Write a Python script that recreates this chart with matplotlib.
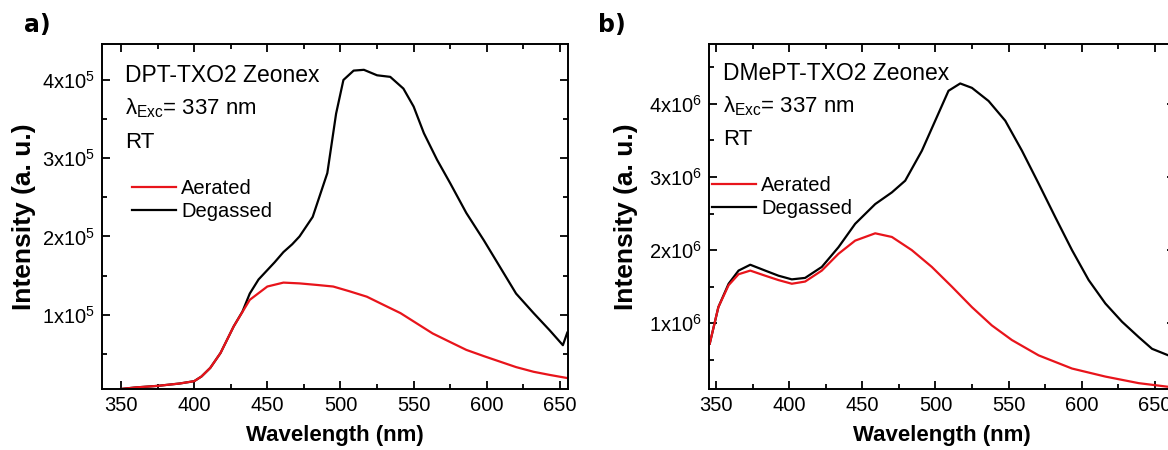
import numpy as np
import matplotlib
matplotlib.use("Agg")
import matplotlib.pyplot as plt
from matplotlib.ticker import MultipleLocator, FuncFormatter

plt.rcParams['font.family'] = ['Liberation Sans', 'DejaVu Sans']
plt.rcParams['mathtext.fontset'] = 'custom'
plt.rcParams['mathtext.rm'] = 'Liberation Sans'
plt.rcParams['mathtext.it'] = 'Liberation Sans'
plt.rcParams['mathtext.bf'] = 'Liberation Sans:bold'

# ---- panel a : DPT-TXO2 (in units of 1e5)
wl_a = [350, 360, 375, 390, 400, 405, 411, 418, 427, 433, 438, 444, 450, 455, 461, 467,
        472, 481, 491, 497, 502, 509, 516, 525, 534, 543, 550, 557, 566, 575, 586,
        598, 609, 620, 632, 643, 652, 655]
degassed_a = [0.05, 0.07, 0.09, 0.12, 0.15, 0.21, 0.32, 0.51, 0.85, 1.04, 1.27, 1.45, 1.57,
              1.67, 1.80, 1.90, 2.00, 2.25, 2.81, 3.57, 4.00, 4.12, 4.13, 4.06, 4.04, 3.89,
              3.66, 3.32, 2.98, 2.68, 2.30, 1.95, 1.61, 1.27, 1.02, 0.80, 0.61, 0.77]
wl_a_red = [350, 360, 375, 390, 400, 405, 411, 418, 427, 438, 450, 461, 472, 484, 495,
            506, 518, 530, 541, 552, 563, 575, 586, 598, 609, 620, 632, 643, 655]
aerated_a = [0.05, 0.07, 0.09, 0.12, 0.15, 0.21, 0.32, 0.51, 0.85, 1.19, 1.36, 1.41, 1.40,
             1.38, 1.36, 1.30, 1.23, 1.12, 1.02, 0.89, 0.76, 0.65, 0.55, 0.47, 0.40, 0.33,
             0.27, 0.23, 0.19]

# ---- panel b : DMePT-TXO2 (units of 1e6)
wl_b = [345.7, 351.6, 358.6, 365.4, 373.4, 383.6, 392.7, 401.8, 410.9, 422.3, 433.7, 445.1,
        458.8, 470.2, 479.3, 490.7, 499.8, 508.9, 516.9, 524.9, 536.3, 547.7, 559.1,
        570.5, 581.9, 593.3, 604.7, 616.1, 627.5, 638.9, 648.0, 659.2]
degassed_b = [0.72, 1.22, 1.54, 1.72, 1.80, 1.72, 1.65, 1.60, 1.62, 1.77, 2.04, 2.36, 2.63,
              2.79, 2.95, 3.36, 3.77, 4.18, 4.28, 4.22, 4.04, 3.77, 3.36, 2.91, 2.45, 2.00,
              1.59, 1.27, 1.02, 0.81, 0.65, 0.56]
wl_b_red = [345.7, 351.6, 358.6, 365.4, 373.4, 383.6, 392.7, 401.8, 410.9, 422.3, 433.7,
            445.1, 458.8, 470.2, 483.8, 497.5, 511.2, 524.9, 538.5, 552.2, 570.5, 593.3,
            616.1, 638.9, 659.2]
aerated_b = [0.72, 1.22, 1.52, 1.67, 1.72, 1.65, 1.59, 1.54, 1.57, 1.72, 1.95, 2.13, 2.23,
             2.18, 2.00, 1.77, 1.50, 1.22, 0.97, 0.77, 0.56, 0.38, 0.27, 0.18, 0.13]

fig = plt.figure(figsize=(11.68, 4.5), dpi=100)
W, H = 1168.0, 450.0
ax_a = fig.add_axes([102 / W, 1 - 389 / H, 466 / W, 345 / H])
ax_b = fig.add_axes([709 / W, 1 - 389 / H, 466 / W, 345 / H])


def style(ax, exp, xlim, ylim, ylab_x):
    ax.set_xlim(*xlim)
    ax.set_ylim(*ylim)
    ax.xaxis.set_major_locator(MultipleLocator(50))
    ax.xaxis.set_minor_locator(MultipleLocator(25))
    ax.yaxis.set_major_locator(MultipleLocator(10 ** exp))
    ax.yaxis.set_minor_locator(MultipleLocator(0.5 * 10 ** exp))
    ax.yaxis.set_major_formatter(FuncFormatter(
        lambda v, p: "%dx10$^{%d}$" % (round(v / 10 ** exp), exp)))
    ax.tick_params(which='both', direction='in', top=True, right=True, width=1.3,
                   labelsize=14.5, pad=5)
    ax.tick_params(which='major', length=6)
    ax.tick_params(which='minor', length=3.5)
    for s in ax.spines.values():
        s.set_linewidth(1.4)
    ax.set_xlabel("Wavelength (nm)", fontsize=16, fontweight='bold')
    ax.set_ylabel("Intensity (a. u.)", fontsize=19, fontweight='bold')
    ax.xaxis.set_label_coords(0.5, -0.103)
    ax.yaxis.set_label_coords(ylab_x, 0.5)


ax_a.plot(wl_a, np.array(degassed_a) * 1e5, color='black', lw=1.6, label='Degassed')
ax_a.plot(wl_a_red, np.array(aerated_a) * 1e5, color='#e8141b', lw=1.6, label='Aerated')
style(ax_a, 5, (337, 655.5), (5000, 4.46e5), -0.142)

ax_b.plot(wl_b, np.array(degassed_b) * 1e6, color='black', lw=1.6, label='Degassed')
ax_b.plot(wl_b_red, np.array(aerated_b) * 1e6, color='#e8141b', lw=1.6, label='Aerated')
style(ax_b, 6, (345.2, 663.7), (1e5, 4.82e6), -0.152)

for ax, name, tx, ty, lx, ly in [(ax_a, "DPT-TXO2 Zeonex", 0.049, 0.89, 0.064, 0.61),
                                 (ax_b, "DMePT-TXO2 Zeonex", 0.030, 0.896, 0.006, 0.618)]:
    ax.text(tx, ty, name, transform=ax.transAxes, fontsize=16.5, va='baseline')
    ax.text(tx, ty - 0.093, r"$\lambda_{\mathrm{Exc}}$= 337 nm", transform=ax.transAxes,
            fontsize=16, va='baseline')
    ax.text(tx, ty - 0.19, "RT", transform=ax.transAxes, fontsize=16, va='baseline')
    h, l = ax.get_legend_handles_labels()
    ax.legend(h[::-1], l[::-1], loc='upper left', bbox_to_anchor=(lx, ly), frameon=False,
              fontsize=14.5, handlelength=2.2, handletextpad=0.25, labelspacing=0.2,
              borderpad=0, borderaxespad=0)

fig.text(24 / W, 1 - 25 / H, "a)", fontsize=17, fontweight='bold', va='center',
         family='DejaVu Sans')
fig.text(598 / W, 1 - 25 / H, "b)", fontsize=17, fontweight='bold', va='center',
         family='DejaVu Sans')

fig.savefig("out.png", dpi=100)
